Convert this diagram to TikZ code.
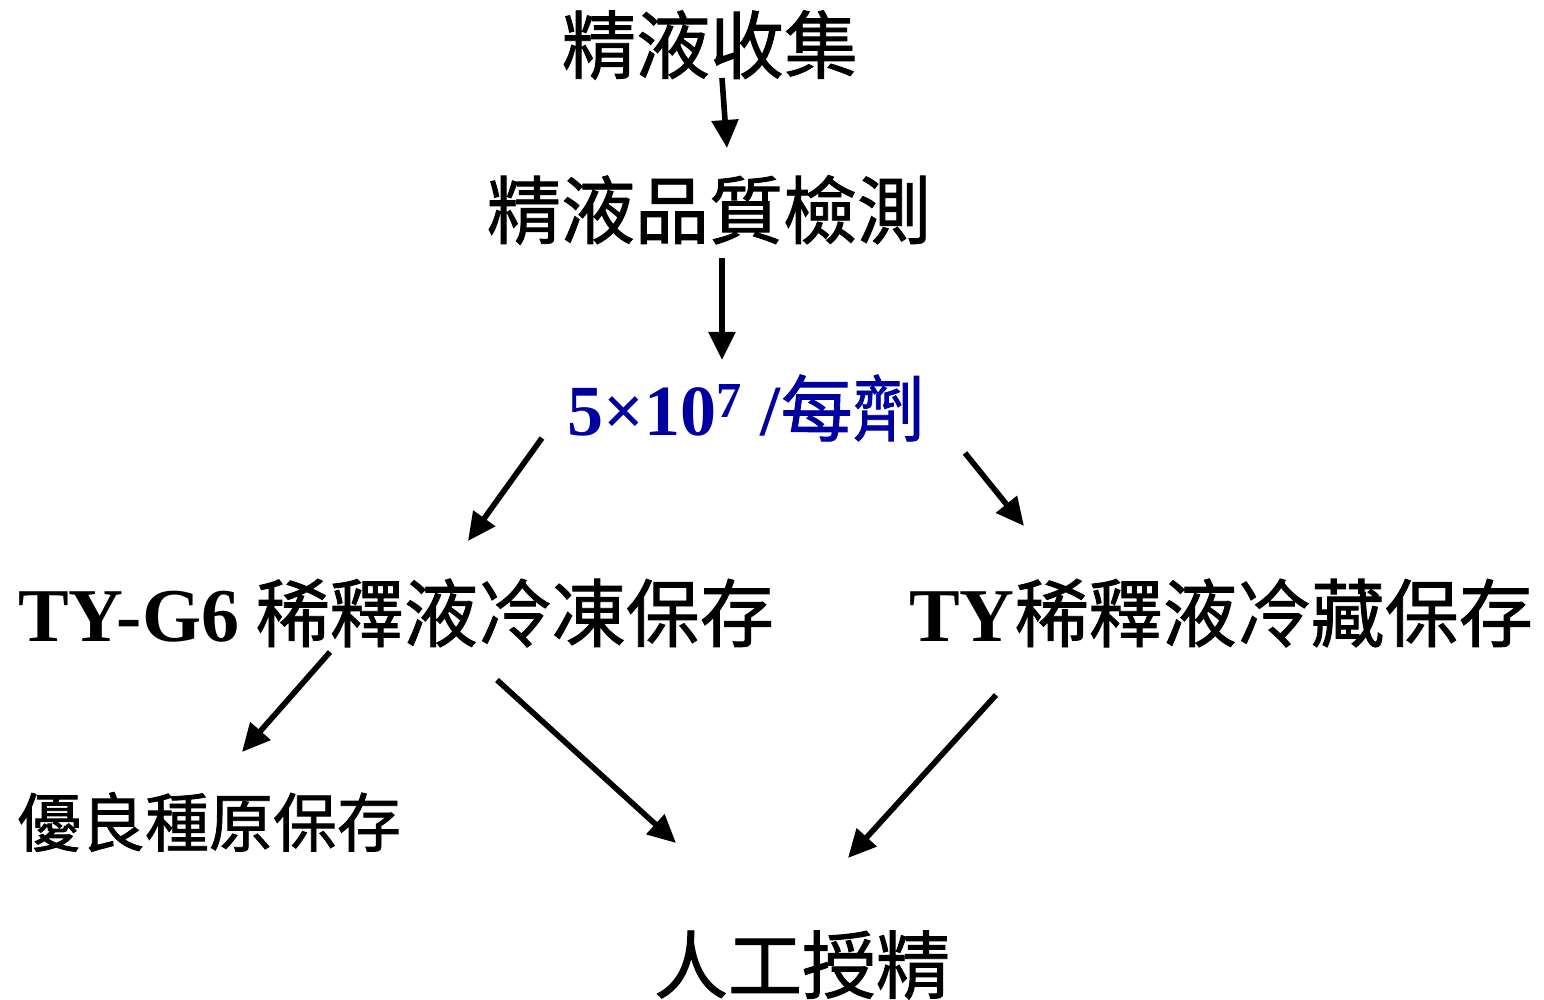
\documentclass[tikz,border=0pt]{standalone}
\usepackage{fontspec}
\setmainfont{Liberation Serif}
\newfontfamily\cjk[FakeBold=1.2]{Noto Sans CJK TC}
\usetikzlibrary{arrows.meta, calc, positioning}
\definecolor{doseblue}{RGB}{0,0,160}

\begin{document}
\begin{tikzpicture}[x=0.5pt, y=-0.5pt,
  step label/.style={inner sep=0pt, font=\fontsize{37}{40}\selectfont\cjk},
  flow arrow/.style={line width=2.8pt, -{Triangle[length=14pt, width=13pt]}}]
\useasboundingbox (0,0) rectangle (1544,1000);

% Steps
\node[step label] (collect) at (710,45) {精液收集};
\node[step label] (quality) at (709,210) {精液品質檢測};
\node[step label, text=doseblue, font=\fontsize{36}{40}\selectfont\cjk] (dose) at (746,408)
  {{\rmfamily\bfseries 5×10\textsuperscript{7} /}每劑};
\node[step label] (freeze) at (396,613)
  {{\rmfamily\bfseries\fontsize{38}{40}\selectfont TY-G6} 稀釋液冷凍保存};
\node[step label] (chill) at (1221,613)
  {{\rmfamily\bfseries\fontsize{38}{40}\selectfont TY}稀釋液冷藏保存};
\node[step label, font=\fontsize{32}{36}\selectfont\cjk] (elite) at (209,822) {優良種原保存};
\node[step label] (insem) at (802,965) {人工授精};

% Flow
\draw[flow arrow] ($(collect)+(12,33)$) -- ($(quality)+(18,-62)$);
\draw[flow arrow] ($(quality)+(13,48)$) -- ($(dose)+(-24,-48)$);
\draw[flow arrow] ($(dose)+(-204,30)$) -- ($(freeze)+(72,-72)$);
\draw[flow arrow] ($(dose)+(219,45)$) -- ($(chill)+(-197,-87)$);
\draw[flow arrow] ($(freeze)+(-66,39)$) -- ($(elite)+(33,-70)$);
\draw[flow arrow] ($(freeze)+(101,67)$) -- ($(insem)+(-126,-122)$);
\draw[flow arrow] ($(chill)+(-225,82)$) -- ($(insem)+(46,-107)$);

\end{tikzpicture}
\end{document}
